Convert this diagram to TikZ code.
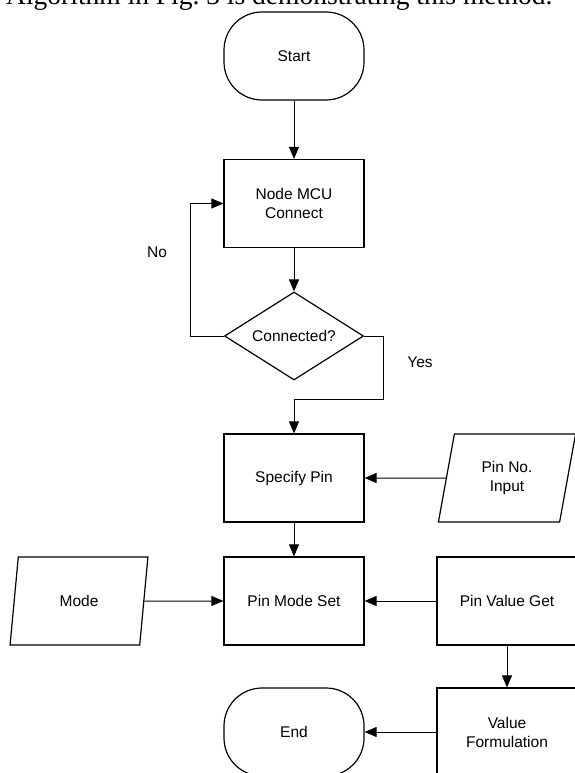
\documentclass[tikz,border=0pt]{standalone}
\usepackage{fontspec}
\setmainfont{Liberation Sans}
\newfontfamily\pageserif{Liberation Serif}
\usetikzlibrary{arrows.meta,shapes.geometric}
\begin{document}
\begin{tikzpicture}[x=1pt,y=-1pt,
  every node/.style={font=\fontsize{15.5}{19}\selectfont, align=center},
  procbox/.style={draw, line width=1.2pt, minimum width=140pt, minimum height=88pt, inner sep=0pt},
  termbox/.style={procbox, rounded corners=38pt},
  decbox/.style={draw, line width=1.2pt, diamond, aspect=1.57, minimum width=139pt, minimum height=88pt, inner sep=0pt},
  iobox/.style={draw, line width=1.2pt, trapezium, trapezium left angle=77, trapezium right angle=103, trapezium stretches=true, minimum width=138pt, minimum height=88pt, inner sep=0pt},
  conn/.style={line width=1pt, -{Triangle[length=12pt,width=10pt]}},
  lbl/.style={inner sep=0pt}
]
\useasboundingbox (0,0) rectangle (575,773);
\clip (0,0) rectangle (575,773);

\node[anchor=base west, inner sep=0pt, font=\pageserif\fontsize{27.5}{30}\selectfont] (hdr) at (6,4.5) {Algorithm in Fig.~3 is demonstrating this method.};

\node[termbox] (start) at (294,56) {Start};
\node[procbox] (mcu) at (294,203.5) {Node MCU\\Connect};
\node[decbox] (dec) at (294,336) {Connected?};
\node[procbox] (spec) at (294,478) {Specify Pin};
\node[iobox] (pinno) at (507,478) {Pin No.\\Input};
\node[procbox] (modeset) at (294,601) {Pin Mode Set};
\node[iobox] (mode) at (79,601) {Mode};
\node[procbox] (valget) at (507,601) {Pin Value Get};
\node[procbox] (valform) at (507,732) {Value\\Formulation};
\node[termbox] (endn) at (294,732) {End};

\node[lbl] (no) at (157,252) {No};
\node[lbl] (yes) at (420,362) {Yes};

\draw[conn] (start) -- (mcu);
\draw[conn] (mcu) -- (dec);
\draw[conn] (dec.west) -- ++(-33,0) |- (mcu.west);
\draw[conn] (dec.east) -| ++(19,63) -| (spec.north);
\draw[conn] (pinno) -- (spec);
\draw[conn] (spec) -- (modeset);
\draw[conn] (mode) -- (modeset);
\draw[conn] (valget) -- (modeset);
\draw[conn] (valget) -- (valform);
\draw[conn] (valform) -- (endn);
\end{tikzpicture}
\end{document}
